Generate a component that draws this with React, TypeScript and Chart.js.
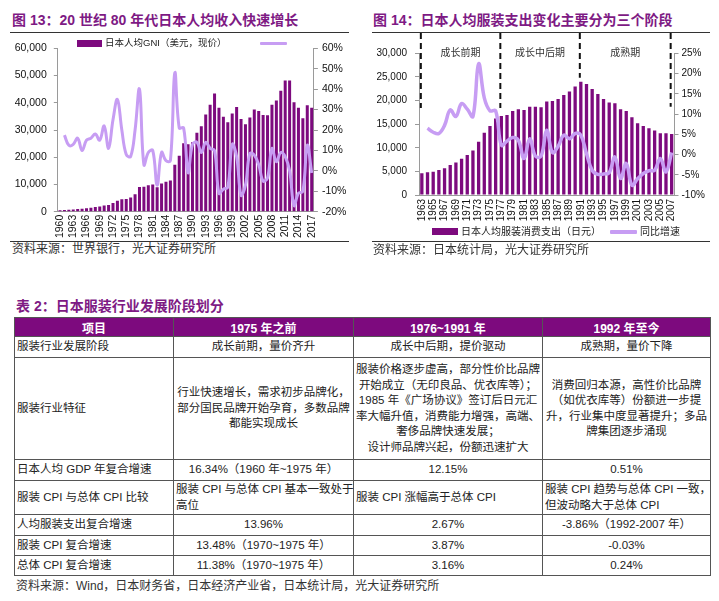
import React, { useEffect, useRef } from "react";
import { Chart, registerables } from "chart.js";

Chart.register(...registerables);

// ---------------- DATA ----------------
const gniYears = [
  "1960","1961","1962","1963","1964","1965","1966","1967","1968","1969",
  "1970","1971","1972","1973","1974","1975","1976","1977","1978","1979",
  "1980","1981","1982","1983","1984","1985","1986","1987","1988","1989",
  "1990","1991","1992","1993","1994","1995","1996","1997","1998","1999",
  "2000","2001","2002","2003","2004","2005","2006","2007","2008","2009",
  "2010","2011","2012","2013","2014","2015","2016","2017",
];
const gniValues = [
  500, 600, 700, 800, 950, 1050, 1250, 1450, 1700, 1950,
  2300, 2500, 3200, 4000, 4600, 4700, 5200, 6400, 9100, 9200,
  9700, 10000, 9000, 10400, 11000, 11500, 17200, 20500, 25100, 24800,
  25500, 29000, 31400, 35700, 39300, 43400, 38200, 34900, 32800, 36100,
  38400, 34000, 32100, 34600, 37500, 37000, 35500, 35400, 39300, 40800,
  44400, 48200, 48200, 40200, 38200, 34300, 39100, 38200,
];
const gniGrowth = [
  null, 17.5, 12.5, 13, 16, 10, 15, 16, 18, 15,
  22, 11, 25, 35, 20, 8, 7, 20, 40, 3,
  9, 10, -7, 9, 5, 5, 48, 21, 21, -1,
  13, 14, 9, 14, 11, 10, -11, -9, -8, 13,
  7, -12, -7, 8.5, 7.7, 3, -5, -3.4, 11, 4.5,
  9, 7, 0, -17, -11, -10, 12.5, -1,
];
const gniLegendBar = "日本人均GNI（美元，现价）";

const clothYears = [
  "1963","1964","1965","1966","1967","1968","1969","1970","1971","1972",
  "1973","1974","1975","1976","1977","1978","1979","1980","1981","1982",
  "1983","1984","1985","1986","1987","1988","1989","1990","1991","1992",
  "1993","1994","1995","1996","1997","1998","1999","2000","2001","2002",
  "2003","2004","2005","2006","2007",
];
const clothSpend = [
  4590, 4800, 4940, 5300, 5650, 6350, 6900, 7700, 8470, 9400,
  11300, 13200, 14600, 16200, 16700, 16950, 17800, 18150, 18000, 18700,
  18700, 18570, 19770, 19900, 20340, 21190, 21900, 22950, 24000, 23500,
  22460, 21400, 20340, 19560, 19420, 18150, 17800, 16450, 15180, 14620,
  14120, 13630, 13070, 13070, 12920,
];
const clothGrowth = [
  null, 6.5, 5.5, 5.2, 7.2, 11, 9.4, 12.6, 11.2, 9.4,
  22.4, 14, 10.8, 10.8, 2.3, 3.3, 4.2, 3.5, -1, 3.9,
  -0.4, -0.4, 6, 0.5, 2, 4.8, 3.9, 5.2, 4.8, 0.2,
  -3.9, -4.9, -4.8, -4.5, -0.6, -5.9, -2.2, -7.6, -6, -4.7,
  -4, -3.9, -1, -4.3, 0.5,
];
const clothLegendBar = "日本人均服装消费支出（日元）";
const clothLegendLine = "同比增速";
const phaseNames = ["成长前期", "成长中后期", "成熟期"];
const phaseDividerYears = ["1963", "1977", "1991", "2007"];
const phaseDividerEnds = [18400, 18400, 24800, 18700];

const tableHeader = ["项目", "1975 年之前", "1976~1991 年", "1992 年至今"];

// ---------------- STYLE ----------------
const PURPLE = "#7D0A7E";
const TITLE_PURPLE = "#7E1A84";
const LAVENDER = "#C79DF3";
const AXIS_GREY = "#9a9a9a";
const FONT = "'Liberation Sans', Arial, 'Noto Sans CJK SC', sans-serif";
const CJK = "'Liberation Sans', 'Noto Sans CJK SC', sans-serif";

function useChart(ref: React.RefObject<HTMLCanvasElement>, make: (c: HTMLCanvasElement) => Chart) {
  useEffect(() => {
    if (!ref.current) return;
    const ch = make(ref.current);
    return () => ch.destroy();
  }, []);
}

function GniChart() {
  const ref = useRef<HTMLCanvasElement>(null);
  useChart(ref, (c) =>
    new Chart(c, {
      type: "bar",
      data: {
        labels: gniYears,
        datasets: [
          {
            type: "line",
            label: "",
            data: gniGrowth as any,
            yAxisID: "y1",
            borderColor: LAVENDER,
            borderWidth: 3,
            pointRadius: 0,
            tension: 0.4,
            order: 0,
          } as any,
          {
            type: "bar",
            label: gniLegendBar,
            data: gniValues,
            yAxisID: "y",
            backgroundColor: PURPLE,
            barPercentage: 0.68,
            categoryPercentage: 1,
            order: 1,
          },
        ],
      },
      options: {
        animation: false,
        responsive: false,
        maintainAspectRatio: false,
        layout: { padding: { top: 8, left: 0, right: 0, bottom: 0 } },
        plugins: { legend: { display: false }, tooltip: { enabled: false } },
        scales: {
          x: {
            grid: { display: false, drawTicks: false },
            border: { display: true, color: AXIS_GREY },
            ticks: {
              autoSkip: false,
              minRotation: 90,
              maxRotation: 90,
              padding: 3,
              color: "#111",
              font: { family: FONT, size: 10.5 },
              callback: (_v: any, i: number) => (i % 3 === 0 ? gniYears[i] : ""),
            },
            afterFit: (s: any) => {
              s.height = 28.3;
            },
          },
          y: {
            position: "left",
            min: 0,
            max: 60000,
            ticks: {
              stepSize: 10000,
              padding: 7,
              color: "#111",
              font: { family: FONT, size: 10.5 },
              callback: (v: any) => Number(v).toLocaleString("en-US"),
            },
            grid: { drawOnChartArea: false, tickLength: 4, color: AXIS_GREY },
            border: { color: AXIS_GREY },
            afterFit: (s: any) => {
              s.width = 57.8;
            },
          },
          y1: {
            position: "right",
            min: -20,
            max: 60,
            ticks: {
              stepSize: 10,
              padding: 4,
              color: "#111",
              font: { family: FONT, size: 10.5 },
              callback: (v: any) => `${v}%`,
            },
            grid: { drawOnChartArea: false, tickLength: 4, color: AXIS_GREY },
            border: { color: AXIS_GREY },
            afterFit: (s: any) => {
              s.width = 360 - 313.9;
            },
          },
        },
      },
    })
  );
  return (
    <canvas
      ref={ref}
      width={360}
      height={205}
      style={{ position: "absolute", left: 0, top: 35, width: 360, height: 205 }}
    />
  );
}

const phasePlugin = {
  id: "phases",
  afterDatasetsDraw(chart: any) {
    const { ctx, scales } = chart;
    const x = scales.x;
    const y = scales.y;
    ctx.save();
    ctx.strokeStyle = "#111";
    ctx.lineWidth = 2;
    ctx.setLineDash([6, 4]);
    const xs = phaseDividerYears.map((yr) => x.getPixelForValue(clothYears.indexOf(yr)) - 1);
    xs.forEach((px: number, k: number) => {
      ctx.beginPath();
      ctx.moveTo(px, 0);
      ctx.lineTo(px, y.getPixelForValue(phaseDividerEnds[k]));
      ctx.stroke();
    });
    ctx.setLineDash([]);
    ctx.fillStyle = "#333";
    ctx.font = "10px 'Noto Sans CJK SC'";
    ctx.textAlign = "center";
    ctx.textBaseline = "middle";
    phaseNames.forEach((name, k) => {
      ctx.fillText(name, (xs[k] + xs[k + 1]) / 2, 19);
    });
    ctx.restore();
  },
};

function ClothChart() {
  const ref = useRef<HTMLCanvasElement>(null);
  useChart(ref, (c) =>
    new Chart(c, {
      type: "bar",
      data: {
        labels: clothYears,
        datasets: [
          {
            type: "line",
            label: clothLegendLine,
            data: clothGrowth as any,
            yAxisID: "y1",
            borderColor: LAVENDER,
            borderWidth: 3.5,
            pointRadius: 0,
            tension: 0.4,
            order: 0,
          } as any,
          {
            type: "bar",
            label: clothLegendBar,
            data: clothSpend,
            yAxisID: "y",
            backgroundColor: PURPLE,
            barPercentage: 0.58,
            categoryPercentage: 1,
            order: 1,
          },
        ],
      },
      options: {
        animation: false,
        responsive: false,
        maintainAspectRatio: false,
        layout: { padding: { top: 20.3, left: 0, right: 0, bottom: 0 } },
        plugins: { legend: { display: false }, tooltip: { enabled: false } },
        scales: {
          x: {
            grid: { display: false, drawTicks: false },
            border: { display: true, color: AXIS_GREY },
            ticks: {
              autoSkip: false,
              minRotation: 90,
              maxRotation: 90,
              padding: 4,
              color: "#111",
              font: { family: FONT, size: 10 },
              callback: (_v: any, i: number) => (i % 2 === 0 ? clothYears[i] : ""),
            },
            afterFit: (s: any) => {
              s.height = 45;
            },
          },
          y: {
            position: "left",
            min: 0,
            max: 30000,
            ticks: {
              stepSize: 5000,
              padding: 8,
              color: "#111",
              font: { family: FONT, size: 10 },
              callback: (v: any) => Number(v).toLocaleString("en-US"),
            },
            grid: { drawOnChartArea: false, tickLength: 4, color: AXIS_GREY },
            border: { color: AXIS_GREY },
            afterFit: (s: any) => {
              s.width = 419 - 360;
            },
          },
          y1: {
            position: "right",
            min: -10,
            max: 25,
            ticks: {
              stepSize: 5,
              padding: 3,
              color: "#111",
              font: { family: FONT, size: 10 },
              callback: (v: any) => `${v}%`,
            },
            grid: { drawOnChartArea: false, tickLength: 4, color: AXIS_GREY },
            border: { color: AXIS_GREY },
            afterFit: (s: any) => {
              s.width = 719 - 674.5;
            },
          },
        },
      },
      plugins: [phasePlugin],
    })
  );
  return (
    <canvas
      ref={ref}
      width={359}
      height={207}
      style={{ position: "absolute", left: 360, top: 33, width: 359, height: 207 }}
    />
  );
}

const abs = (left: number, top: number, extra: React.CSSProperties = {}): React.CSSProperties => ({
  position: "absolute",
  left,
  top,
  whiteSpace: "nowrap",
  ...extra,
});

// ---------------- TABLE ----------------
const colW = [159, 180, 189, 168];
const rowH = [19, 21, 102, 21, 34, 21, 20, 20];
const BORDER = "1px solid #555";

type Cell = { lines: string[]; align: "left" | "center" };
const tableRows: Cell[][] = [
  [
    { lines: ["服装行业发展阶段"], align: "left" },
    { lines: ["成长前期，量价齐升"], align: "center" },
    { lines: ["成长中后期，提价驱动"], align: "center" },
    { lines: ["成熟期，量价下降"], align: "center" },
  ],
  [
    { lines: ["服装行业特征"], align: "left" },
    { lines: ["行业快速增长，需求初步品牌化，", "部分国民品牌开始孕育，多数品牌", "都能实现成长"], align: "center" },
    {
      lines: [
        "服装价格逐步虚高，部分性价比品牌",
        "开始成立（无印良品、优衣库等）；",
        "1985 年《广场协议》签订后日元汇",
        "率大幅升值，消费能力增强，高端、",
        "奢侈品牌快速发展；",
        "设计师品牌兴起，份额迅速扩大",
      ],
      align: "center",
    },
    { lines: ["消费回归本源，高性价比品牌", "（如优衣库等）份额进一步提", "升，行业集中度显著提升；多品", "牌集团逐步涌现"], align: "center" },
  ],
  [
    { lines: ["日本人均 GDP 年复合增速"], align: "left" },
    { lines: ["16.34%（1960 年~1975 年）"], align: "center" },
    { lines: ["12.15%"], align: "center" },
    { lines: ["0.51%"], align: "center" },
  ],
  [
    { lines: ["服装 CPI 与总体 CPI 比较"], align: "left" },
    { lines: ["服装 CPI 与总体 CPI 基本一致处于", "高位"], align: "left" },
    { lines: ["服装 CPI 涨幅高于总体 CPI"], align: "left" },
    { lines: ["服装 CPI 趋势与总体 CPI 一致，", "但波动略大于总体 CPI"], align: "left" },
  ],
  [
    { lines: ["人均服装支出复合增速"], align: "left" },
    { lines: ["13.96%"], align: "center" },
    { lines: ["2.67%"], align: "center" },
    { lines: ["-3.86%（1992-2007 年）"], align: "center" },
  ],
  [
    { lines: ["服装 CPI 复合增速"], align: "left" },
    { lines: ["13.48%（1970~1975 年）"], align: "center" },
    { lines: ["3.87%"], align: "center" },
    { lines: ["-0.03%"], align: "center" },
  ],
  [
    { lines: ["总体 CPI 复合增速"], align: "left" },
    { lines: ["11.38%（1970~1975 年）"], align: "center" },
    { lines: ["3.16%"], align: "center" },
    { lines: ["0.24%"], align: "center" },
  ],
];

function StageTable() {
  return (
    <div
      style={{
        position: "absolute",
        left: 14,
        top: 317,
        display: "grid",
        gridTemplateColumns: colW.map((w) => `${w}px`).join(" "),
        gridTemplateRows: rowH.map((h) => `${h}px`).join(" "),
        borderTop: BORDER,
        borderLeft: BORDER,
        boxSizing: "border-box",
        fontFamily: CJK,
        fontSize: 11.5,
        color: "#222",
      }}
    >
      {tableHeader.map((h, i) => (
        <div
          key={"h" + i}
          style={{
            background: PURPLE,
            color: "#fff",
            fontWeight: 700,
            borderRight: BORDER,
            borderBottom: BORDER,
            boxSizing: "border-box",
            display: "flex",
            alignItems: "center",
            justifyContent: "center",
            fontSize: 12,
            whiteSpace: "nowrap",
          }}
        >
          {h}
        </div>
      ))}
      {tableRows.map((row, r) =>
        row.map((cell, c) => (
          <div
            key={r + "-" + c}
            style={{
              borderRight: BORDER,
              borderBottom: BORDER,
              boxSizing: "border-box",
              display: "flex",
              flexDirection: "column",
              justifyContent: "center",
              alignItems: cell.align === "center" ? "center" : "flex-start",
              padding: cell.align === "center" ? 0 : "0 2px",
              lineHeight: "15.5px",
              overflow: "visible",
            }}
          >
            {cell.lines.map((ln, k) => (
              <div key={k} style={{ whiteSpace: "nowrap", textAlign: cell.align }}>
                {ln}
              </div>
            ))}
          </div>
        ))
      )}
    </div>
  );
}

export default function App() {
  return (
    <div
      style={{
        position: "absolute",
        left: 0,
        top: 0,
        width: 719,
        height: 601,
        background: "#fff",
        overflow: "hidden",
        fontFamily: CJK,
      }}
    >
      {/* Figure 13 */}
      <div style={abs(12, 10, { fontSize: 14, fontWeight: 700, color: TITLE_PURPLE, lineHeight: "20px" })}>
        图 13：20 世纪 80 年代日本人均收入快速增长
      </div>
      <div style={abs(10, 31.5, { width: 339, height: 1, background: "#333" })} />
      <GniChart />
      <div style={abs(77, 39.5, { width: 25, height: 7, background: PURPLE })} />
      <div style={abs(105, 36, { fontSize: 9.5, lineHeight: "14px", color: "#222" })}>{gniLegendBar}</div>
      <div style={abs(260, 41.5, { width: 27, height: 3, background: LAVENDER, borderRadius: 1 })} />
      <div style={abs(10, 240.5, { width: 339, height: 1, background: "#333" })} />
      <div style={abs(12, 242, { fontSize: 12, lineHeight: "14px", color: "#333" })}>资料来源：世界银行，光大证券研究所</div>

      {/* Figure 14 */}
      <div style={abs(373, 10, { fontSize: 14, fontWeight: 700, color: TITLE_PURPLE, lineHeight: "20px" })}>
        图 14：日本人均服装支出变化主要分为三个阶段
      </div>
      <div style={abs(372, 31.5, { width: 338, height: 1, background: "#333" })} />
      <ClothChart />
      <div style={abs(432, 228, { width: 26, height: 7, background: PURPLE })} />
      <div style={abs(461, 224.5, { fontSize: 10, lineHeight: "14px", color: "#222" })}>{clothLegendBar}</div>
      <div style={abs(610, 230, { width: 27, height: 3.5, background: LAVENDER, borderRadius: 1 })} />
      <div style={abs(640, 224.5, { fontSize: 10, lineHeight: "14px", color: "#222" })}>{clothLegendLine}</div>
      <div style={abs(372, 241, { width: 338, height: 1, background: "#333" })} />
      <div style={abs(373, 242.5, { fontSize: 12, lineHeight: "14px", color: "#333" })}>资料来源：日本统计局，光大证券研究所</div>

      {/* Table 2 */}
      <div style={abs(16, 297, { fontSize: 14, fontWeight: 700, color: TITLE_PURPLE, lineHeight: "18px" })}>
        表 2：日本服装行业发展阶段划分
      </div>
      <StageTable />
      <div style={abs(16, 579, { fontSize: 12, lineHeight: "15px", color: "#333" })}>
        资料来源：Wind，日本财务省，日本经济产业省，日本统计局，光大证券研究所
      </div>
    </div>
  );
}
